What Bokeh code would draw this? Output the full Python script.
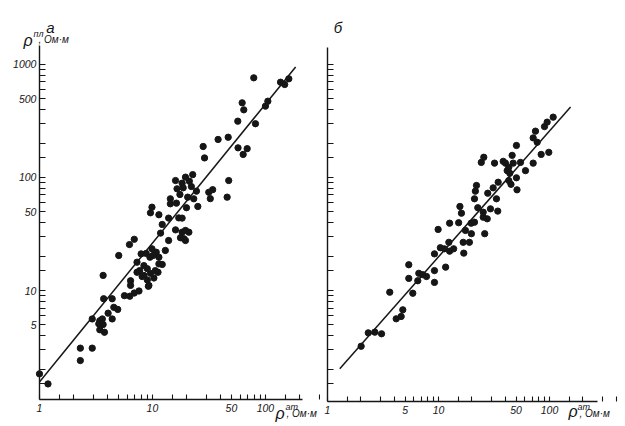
from bokeh.plotting import figure
from bokeh.layouts import row
from bokeh.models import FixedTicker, Range1d, Label, PrintfTickFormatter
from bokeh.embed import file_html
from bokeh.resources import INLINE

# ---- panel а ----
a_x = [1.0, 1.19, 2.3, 2.3, 2.93, 2.93, 3.42, 3.6, 3.35, 3.66, 3.42, 3.76, 3.66, 3.7, 4.4, 4.05,
       4.4, 4.55, 4.93, 5.65, 6.3, 6.9, 7.6, 6.4, 6.4, 7.3, 8.1, 9.0, 9.2, 10.3, 9.6, 11.2,
       5.03, 6.26, 6.9, 7.94, 8.8, 9.9, 9.5, 10.8, 13.0, 10.1, 11.4, 7.3, 8.4, 7.7, 9.0, 10.6,
       12.2, 11.4, 8.4, 9.3,
       16, 19.6, 22.7, 18.3, 21.2, 16.5, 18.7, 22.1, 24.5, 17.5, 20.5, 14.4, 23.2, 31.5, 34.1,
       32.5, 47.3, 45.8, 14.4, 16.3, 20, 25.2, 9.9, 9.6, 11.4, 12.2, 13.9, 17.1, 18.3, 11.8, 16,
       18.3, 19.6, 21, 19, 17.7, 19.6, 13.9,
       78.8, 136, 148, 161, 62.2, 64.3, 105, 100, 56.9, 81.6, 38.1, 46.8, 28.1, 28.9, 57.2, 68.9, 63.5]
a_y = [1.83, 1.49, 3.09, 2.4, 3.09, 5.6, 5.4, 5.6, 5.07, 5.0, 4.49, 4.27, 13.6, 8.45, 8.45, 6.3,
       5.6, 7.1, 6.8, 9.0, 8.9, 9.5, 9.9, 12.2, 11.1, 14.5, 13.3, 12.4, 10.9, 12.9, 14.2, 14.5,
       20.4, 25.5, 28.4, 21.1, 21.3, 23.4, 19.7, 21.8, 22.6, 20.4, 19.7, 17.8, 16.6, 15.0, 15.6, 15.0,
       17.0, 17.2, 13.6, 11.1,
       94, 100.7, 106, 89, 92.7, 79.4, 81, 83.2, 75.7, 70.7, 67, 64.8, 64.8, 74, 78,
       65, 94, 67, 58.5, 59.3, 54, 55.4, 54.6, 48.7, 46.8, 38.4, 43.7, 43.9, 43.7, 32.2, 34.4,
       32.8, 34, 32.8, 28.7, 29.3, 27.7, 27.7,
       762, 697, 665, 747, 458, 397, 473, 428, 315, 299, 217, 227, 188, 149, 183, 180, 160]
a_line_x = [1.0, 185.0]
a_line_y = [1.55, 950.0]

# ---- panel б ----
b_x = [2.01, 2.33, 2.67, 3.07, 3.64, 4.16, 4.61, 4.77, 5.4, 5.4, 5.87, 6.65, 6.51, 7.22, 7.8,
       9.2, 9.2, 9.2, 11.6,
       10.4, 11.3, 12.6, 13.7, 12.4, 16.9, 16.7, 19.0, 9.93, 12.6, 15.2, 15.6, 16.1, 17.5, 19.8,
       19.7, 21.1,
       22.0, 21.5, 21.1, 22.6, 25.3, 25.3, 27.5, 26.1, 27.8, 29.4, 31.1, 33.3, 34.2, 34.5,
       24.3, 25.6, 32, 38.3, 40.1, 41.6, 43, 46.1, 47.1, 43.9, 43, 45, 50.4, 51, 50.4, 54.8,
       60.8, 71.3, 71.3, 74.8, 77.5, 84.2, 98.6, 90.2, 95.3, 108]
b_y = [3.21, 4.22, 4.28, 4.14, 9.66, 5.62, 5.89, 6.75, 16.9, 12.8, 9.46, 14.2, 12.2, 13.8, 13.3,
       21.1, 15.0, 11.8, 16.1,
       23.9, 23.4, 22.3, 23.4, 26.7, 21.4, 26.7, 26.7, 34.7, 39.4, 39.8, 55.4, 48.3, 34.0, 31.8,
       39.4, 40.2,
       85, 75.7, 64.8, 54, 49.3, 44.5, 43.1, 31.8, 72.6, 52.8, 81, 64.8, 50.4, 90.8,
       136, 151, 134, 139, 134, 115, 123, 157, 134, 109, 94, 87, 99.4, 77.8, 192, 136,
       115, 134, 224, 257, 205, 160, 167, 282, 309, 342]
b_line_x = [1.29, 155.0]
b_line_y = [2.03, 420.0]

# ---- ticks ----
a_x_labels = [1, 10, 50, 100]
b_x_labels = [1, 5, 10, 50, 100]
y_labels = [5, 10, 50, 100, 500, 1000]
sub = [1.5, 2, 3, 4, 5, 6, 7, 8, 9, 10]
all_ticks = [m * d for d in (1, 10, 100) for m in sub]
a_x_minor = [t for t in all_ticks if t not in a_x_labels] + [150, 200]
b_x_minor = [t for t in all_ticks if t not in b_x_labels] + [150]
y_minor = [t for t in all_ticks if t not in y_labels]

INK = "#161616"
FONT = "Liberation Sans"


def style_axis(ax, tick_len, standoff):
    ax.axis_line_color = INK
    ax.axis_line_width = 1.4
    ax.major_tick_line_color = INK
    ax.minor_tick_line_color = INK
    ax.major_tick_line_width = 1.1
    ax.minor_tick_line_width = 1.1
    ax.major_tick_in = tick_len
    ax.major_tick_out = 0
    ax.minor_tick_in = tick_len
    ax.minor_tick_out = 0
    ax.major_label_text_font = FONT
    ax.major_label_text_font_style = "italic"
    ax.major_label_text_font_size = "10.5px"
    ax.major_label_text_color = INK
    ax.major_label_standoff = standoff
    ax.formatter = PrintfTickFormatter(format="%d")


def make_fig(xr, yr, w, h):
    p = figure(x_axis_type="log", y_axis_type="log",
               x_range=Range1d(*xr), y_range=Range1d(*yr),
               width=w, height=h, min_border=0,
               output_backend="svg", toolbar_location=None,
               background_fill_color="white", border_fill_color="white")
    p.outline_line_color = None
    p.grid.visible = False
    return p


def txt(p, x, y, s, size, align="left"):
    p.add_layout(Label(x=x, y=y, x_units="screen", y_units="screen", text=s,
                       text_font=FONT, text_font_style="italic",
                       text_font_size=size, text_color=INK,
                       text_align=align, text_baseline="alphabetic"))


# ---- left figure (frame = whole canvas, axes pinned inside) ----
p1 = make_fig((0.452, 307), (0.652, 3683), 320, 424)
p1.xaxis.ticker = FixedTicker(ticks=a_x_labels, minor_ticks=a_x_minor)
p1.yaxis.ticker = FixedTicker(ticks=y_labels, minor_ticks=y_minor)
p1.xaxis.fixed_location = 1.085
p1.xaxis.bounds = (1.0, 212)
p1.yaxis.fixed_location = 1.0
p1.yaxis.bounds = (1.085, 1470)
style_axis(p1.xaxis[0], 5, 4)
style_axis(p1.yaxis[0], 6, 3)
p1.line(a_line_x, a_line_y, line_color=INK, line_width=1.5)
p1.scatter(a_x, a_y, size=6.3, fill_color=INK, line_color=INK)
txt(p1, 50, 397, "а", "15px", "center")
txt(p1, 23, 384, "ρ", "16px")
txt(p1, 33, 391, "пл", "9px")
txt(p1, 38, 385, ", Ом·м", "10px")
txt(p1, 275, 11, "ρ", "16px")
txt(p1, 285, 18, "ат", "9px")
txt(p1, 286, 11, ", Ом·м", "10px")

# ---- right figure ----
p2 = make_fig((0.865, 455), (0.652, 3683), 302, 424)
p2.xaxis.ticker = FixedTicker(ticks=b_x_labels, minor_ticks=b_x_minor)
p2.yaxis.ticker = FixedTicker(ticks=[], minor_ticks=y_labels + y_minor)
p2.xaxis.fixed_location = 1.04
p2.xaxis.bounds = (1.0, 271)
p2.yaxis.fixed_location = 1.0
p2.yaxis.bounds = (1.04, 1420)
style_axis(p2.xaxis[0], 5, 4)
style_axis(p2.yaxis[0], 6, 3)
p2.line(b_line_x, b_line_y, line_color=INK, line_width=1.5)
p2.scatter(b_x, b_y, size=6.3, fill_color=INK, line_color=INK)
txt(p2, 17.5, 397, "б", "15px", "center")
txt(p2, 248, 13, "ρ", "16px")
txt(p2, 257, 18, "ат", "9px")
txt(p2, 259, 11, ", Ом·м", "10px")

layout = row(p1, p2)
open("out.html", "w").write(file_html(layout, INLINE))
